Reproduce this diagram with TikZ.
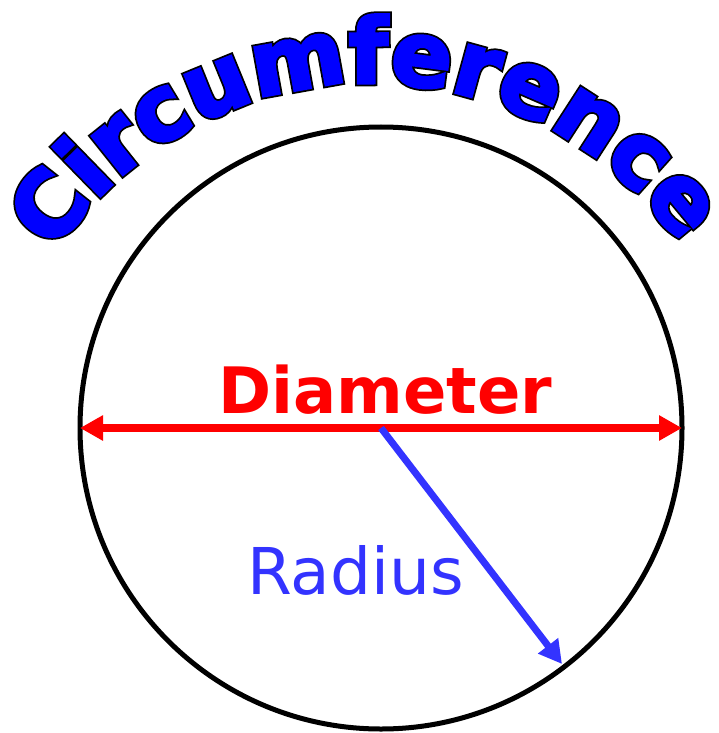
\documentclass[tikz,border=0pt]{standalone}
\usepackage{fontspec}
\setmainfont{DejaVu Sans}
\usetikzlibrary{arrows.meta,decorations.text}

\definecolor{radblue}{HTML}{3333FF}
\definecolor{diamred}{HTML}{FF0000}
\definecolor{circblue}{HTML}{0000FF}

\newcommand\circfont{\bfseries\fontsize{90}{90}\selectfont}
% glyph made heavier: black stroke below, blue stroke on top
\newcommand\outlinedchar[1]{%
  \rlap{\color{black}\special{pdf:literal direct 2 Tr 6.5 w}#1\special{pdf:literal direct 0 Tr}}%
  \special{pdf:literal direct 2 Tr 3 w}#1\special{pdf:literal direct 0 Tr}}

\begin{document}
\begin{tikzpicture}[x=1pt,y=1pt,
  rim/.style={draw, circle, line width=5pt, minimum size=602pt, inner sep=0pt, outer sep=0pt},
  diamarrow/.style={diamred, line width=7.5pt, {Triangle[length=23pt,width=24pt]}-{Triangle[length=23pt,width=24pt]}},
  radarrow/.style={radblue, line width=7pt, -{Triangle[length=23pt,width=24pt]}},
  diamlabel/.style={anchor=base, inner sep=0pt, text=diamred, font=\bfseries\fontsize{64}{64}\selectfont},
  radlabel/.style={anchor=base, inner sep=0pt, text=radblue, font=\fontsize{64.5}{64.5}\selectfont}]

  \useasboundingbox (0,0) rectangle (719,-733);

  % Circle
  \node[rim] (rim) at (381,-428) {};

  % Circumference along the arc
  \coordinate (arcmid) at (370,-461);
  \path[decorate, decoration={text effects along path,
      text={Circumference}, text align=center,
      text effects/.cd,
        text along path,
        character command=\outlinedchar,
        every character/.style={font=\circfont, text=circblue, inner sep=0pt}}]
    (arcmid) ++(180.8:378) arc[start angle=180.8, end angle=0.8, radius=378];

  % Diameter
  \draw[diamarrow] (rim.west) -- (rim.east);
  \node[diamlabel] (diamtext) at (385.5,-413) {Diameter};

  % Radius
  \coordinate (radtip) at (562,-664);
  \draw[radarrow] (rim.center) -- (radtip);
  \node[radlabel] (radtext) at (355.5,-594) {Radius};

\end{tikzpicture}
\end{document}
